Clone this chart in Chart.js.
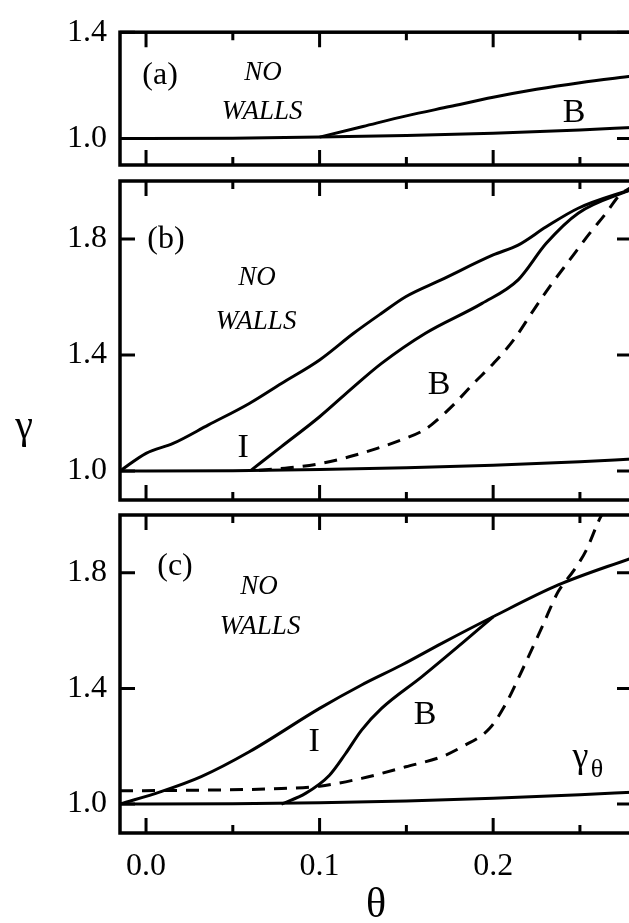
<!DOCTYPE html>
<html>
<head>
<meta charset="utf-8">
<script src="https://cdn.jsdelivr.net/npm/chart.js@4/dist/chart.umd.min.js"></script>
<style>
  html, body { margin: 0; padding: 0; background: #fff; width: 629px; height: 923px; overflow: hidden; }
  #wrap { position: absolute; left: 0; top: 0; width: 640px; height: 923px; }
  #wrap canvas { position: absolute; left: 0; top: 0; }
</style>
</head>
<body>
<div id="wrap">
  <canvas id="pa" width="640" height="923"></canvas>
  <canvas id="pb" width="640" height="923"></canvas>
  <canvas id="pc" width="640" height="923"></canvas>
</div>
<script>
// ---- axis ticks ----
const thetaMajorTicks = [0.0, 0.1, 0.2];
const thetaMinorTicks = [0.05, 0.15, 0.25];
const gammaTicksA = [1.0, 1.4];
const gammaTicksBC = [1.0, 1.4, 1.8];

// ---- gamma_theta (lower solid line, same in every panel) ----
const thetaBase = [-0.015, 0.0, 0.05, 0.1, 0.15, 0.2, 0.25, 0.28];
const gammaBase = [1.0, 1.0, 1.001, 1.005, 1.011, 1.02, 1.032, 1.041];

// ---- panel (a) ----
const thetaA_B = [0.1, 0.125, 0.15, 0.175, 0.2, 0.225, 0.25, 0.28];
const gammaA_B = [1.005, 1.045, 1.085, 1.12, 1.155, 1.185, 1.21, 1.235];

// ---- panel (b) ----
const thetaB_upper = [-0.015, 0.0, 0.0156, 0.036, 0.0595, 0.078, 0.1, 0.1196, 0.1357, 0.1496, 0.17, 0.2, 0.2144, 0.2306, 0.249, 0.28];
const gammaB_upper = [1.0, 1.061, 1.095, 1.159, 1.233, 1.302, 1.383, 1.475, 1.544, 1.601, 1.659, 1.745, 1.779, 1.842, 1.906, 1.972];
const thetaB_mid = [0.0606, 0.078, 0.1, 0.1196, 0.1357, 0.161, 0.1936, 0.2144, 0.2306, 0.249, 0.28];
const gammaB_mid = [1.003, 1.084, 1.187, 1.29, 1.371, 1.475, 1.578, 1.659, 1.785, 1.889, 1.972];
const thetaB_dash = [0.065, 0.0823, 0.1008, 0.117, 0.1332, 0.147, 0.1586, 0.1644, 0.1771, 0.1887, 0.2002, 0.2118, 0.2233, 0.2326, 0.2441, 0.2557, 0.265, 0.273, 0.28];
const gammaB_dash = [1.003, 1.011, 1.026, 1.049, 1.078, 1.107, 1.136, 1.159, 1.228, 1.302, 1.371, 1.452, 1.555, 1.636, 1.728, 1.82, 1.889, 1.952, 1.98];

// ---- panel (c) ----
const thetaC_upper = [-0.015, 0.0086, 0.0318, 0.0595, 0.1, 0.1242, 0.1473, 0.1704, 0.2, 0.2375, 0.28];
const gammaC_upper = [1.0, 1.043, 1.095, 1.181, 1.331, 1.412, 1.481, 1.556, 1.648, 1.758, 1.852];
const thetaC_mid = [0.078, 0.0919, 0.1057, 0.115, 0.1242, 0.1357, 0.159, 0.182, 0.2];
const gammaC_mid = [1.0, 1.037, 1.1, 1.175, 1.256, 1.331, 1.441, 1.556, 1.648];
const thetaC_dash = [-0.015, 0.03, 0.078, 0.1, 0.1242, 0.1496, 0.1704, 0.182, 0.198, 0.2074, 0.2167, 0.2282, 0.2375, 0.2467, 0.2537, 0.2606, 0.2625];
const gammaC_dash = [1.046, 1.048, 1.054, 1.062, 1.089, 1.129, 1.164, 1.198, 1.262, 1.348, 1.463, 1.613, 1.735, 1.81, 1.879, 1.977, 2.0];

const SERIF = '"Liberation Serif", "Times New Roman", serif';

function pts(xs, ys) { return xs.map((x, i) => ({ x: x, y: ys[i] })); }

function line(xs, ys, dashed) {
  return {
    data: pts(xs, ys),
    borderColor: '#000',
    borderWidth: 3,
    borderDash: dashed ? [13, 9] : [],
    pointRadius: 0,
    fill: false,
    cubicInterpolationMode: 'monotone',
    borderCapStyle: 'butt'
  };
}

// frame and inward tick marks on all four sides of the plot area
const framePlugin = {
  id: 'frame',
  afterDatasetsDraw(chart, args, opts) {
    const { ctx, chartArea: a, scales } = chart;
    ctx.save();
    ctx.strokeStyle = '#000';
    ctx.lineWidth = 3;
    ctx.beginPath();
    thetaMajorTicks.concat(thetaMinorTicks).forEach(v => {
      const len = thetaMajorTicks.includes(v) ? 15 : 8;
      const px = scales.x.getPixelForValue(v);
      ctx.moveTo(px, a.top); ctx.lineTo(px, a.top + len);
      ctx.moveTo(px, a.bottom); ctx.lineTo(px, a.bottom - len);
    });
    opts.yTicks.forEach(v => {
      const py = scales.y.getPixelForValue(v);
      ctx.moveTo(a.left, py); ctx.lineTo(a.left + 15, py);
      ctx.moveTo(a.right, py); ctx.lineTo(a.right - 15, py);
    });
    ctx.stroke();
    ctx.lineWidth = 3.5;
    ctx.strokeRect(a.left, a.top, a.right - a.left, a.bottom - a.top);
    ctx.restore();
  }
};

// text labels placed in data coordinates
const labelPlugin = {
  id: 'labels',
  afterDatasetsDraw(chart, args, opts) {
    const { ctx, scales } = chart;
    ctx.save();
    ctx.fillStyle = '#000';
    ctx.textAlign = 'center';
    ctx.textBaseline = 'middle';
    (opts.items || []).forEach(it => {
      ctx.font = it.font;
      const px = it.px !== undefined ? it.px : scales.x.getPixelForValue(it.x);
      ctx.fillText(it.text, px, scales.y.getPixelForValue(it.y));
    });
    ctx.restore();
  }
};

const fontPanel = '32px ' + SERIF;
const fontNW = 'italic 27px ' + SERIF;
const fontLetter = '34px ' + SERIF;

function makeChart(id, cfg) {
  const showX = !!cfg.showX;
  return new Chart(document.getElementById(id), {
    type: 'line',
    data: { datasets: cfg.datasets },
    options: {
      responsive: false,
      animation: false,
      devicePixelRatio: 1,
      events: [],
      layout: { padding: { top: cfg.top, bottom: cfg.bottom, left: 0, right: 8 } },
      plugins: {
        legend: { display: false },
        tooltip: { enabled: false },
        frame: { yTicks: cfg.yTicks },
        labels: { items: cfg.labels }
      },
      scales: {
        x: {
          type: 'linear',
          min: -0.015,
          max: 0.28,
          display: showX,
          afterFit(s) { if (showX) s.height = 90; },
          afterBuildTicks(s) { s.ticks = thetaMajorTicks.map(v => ({ value: v })); },
          grid: { display: false, drawTicks: false },
          border: { display: false },
          ticks: {
            color: '#000',
            font: { family: SERIF, size: 32 },
            padding: 14,
            maxRotation: 0,
            callback: v => Number(v).toFixed(1)
          },
          title: {
            display: showX,
            text: 'θ',
            color: '#000',
            font: { family: SERIF, size: 42, lineHeight: 0.8 },
            padding: 0
          }
        },
        y: {
          type: 'linear',
          min: cfg.ymin,
          max: cfg.ymax,
          afterFit(s) { s.width = 120; },
          afterBuildTicks(s) { s.ticks = cfg.yTicks.map(v => ({ value: v })); },
          grid: { display: false, drawTicks: false },
          border: { display: false },
          ticks: {
            color: '#000',
            font: { family: SERIF, size: 32 },
            padding: 13,
            callback: v => Number(v).toFixed(1)
          }
        }
      }
    },
    plugins: [framePlugin, labelPlugin]
  });
}

makeChart('pa', {
  top: 20, bottom: 923 - 165, ymin: 0.9, ymax: 1.4, yTicks: gammaTicksA,
  datasets: [line(thetaBase, gammaBase), line(thetaA_B, gammaA_B)],
  labels: [
    { text: '(a)', x: 0.0081, y: 1.238, font: fontPanel },
    { text: 'NO', x: 0.0674, y: 1.248, font: fontNW },
    { text: 'WALLS', x: 0.0669, y: 1.10, font: fontNW },
    { text: 'B', x: 0.2467, y: 1.097, font: fontLetter }
  ]
});

makeChart('pb', {
  top: 181, bottom: 923 - 500, ymin: 0.9, ymax: 2.0, yTicks: gammaTicksBC,
  datasets: [
    line(thetaBase, gammaBase),
    line(thetaB_upper, gammaB_upper),
    line(thetaB_mid, gammaB_mid),
    line(thetaB_dash, gammaB_dash, true)
  ],
  labels: [
    { text: '(b)', x: 0.0115, y: 1.797, font: fontPanel },
    { text: 'NO', x: 0.064, y: 1.666, font: fontNW },
    { text: 'WALLS', x: 0.0634, y: 1.514, font: fontNW },
    { text: 'B', x: 0.1689, y: 1.297, font: fontLetter },
    { text: 'I', x: 0.0559, y: 1.079, font: fontLetter },
    { text: 'γ', px: 24, y: 1.15, font: '40px ' + SERIF }
  ]
});

makeChart('pc', {
  top: 515, bottom: 0, ymin: 0.9, ymax: 2.0, yTicks: gammaTicksBC, showX: true,
  datasets: [
    line(thetaBase, gammaBase),
    line(thetaC_upper, gammaC_upper),
    line(thetaC_mid, gammaC_mid),
    line(thetaC_dash, gammaC_dash, true)
  ],
  labels: [
    { text: '(c)', x: 0.0167, y: 1.82, font: fontPanel },
    { text: 'NO', x: 0.0651, y: 1.751, font: fontNW },
    { text: 'WALLS', x: 0.0657, y: 1.612, font: fontNW },
    { text: 'I', x: 0.0968, y: 1.214, font: fontLetter },
    { text: 'B', x: 0.1608, y: 1.308, font: fontLetter },
    { text: 'γ', x: 0.2503, y: 1.16, font: '36px ' + SERIF },
    { text: 'θ', x: 0.2598, y: 1.118, font: '26px ' + SERIF }
  ]
});
</script>
</body>
</html>
